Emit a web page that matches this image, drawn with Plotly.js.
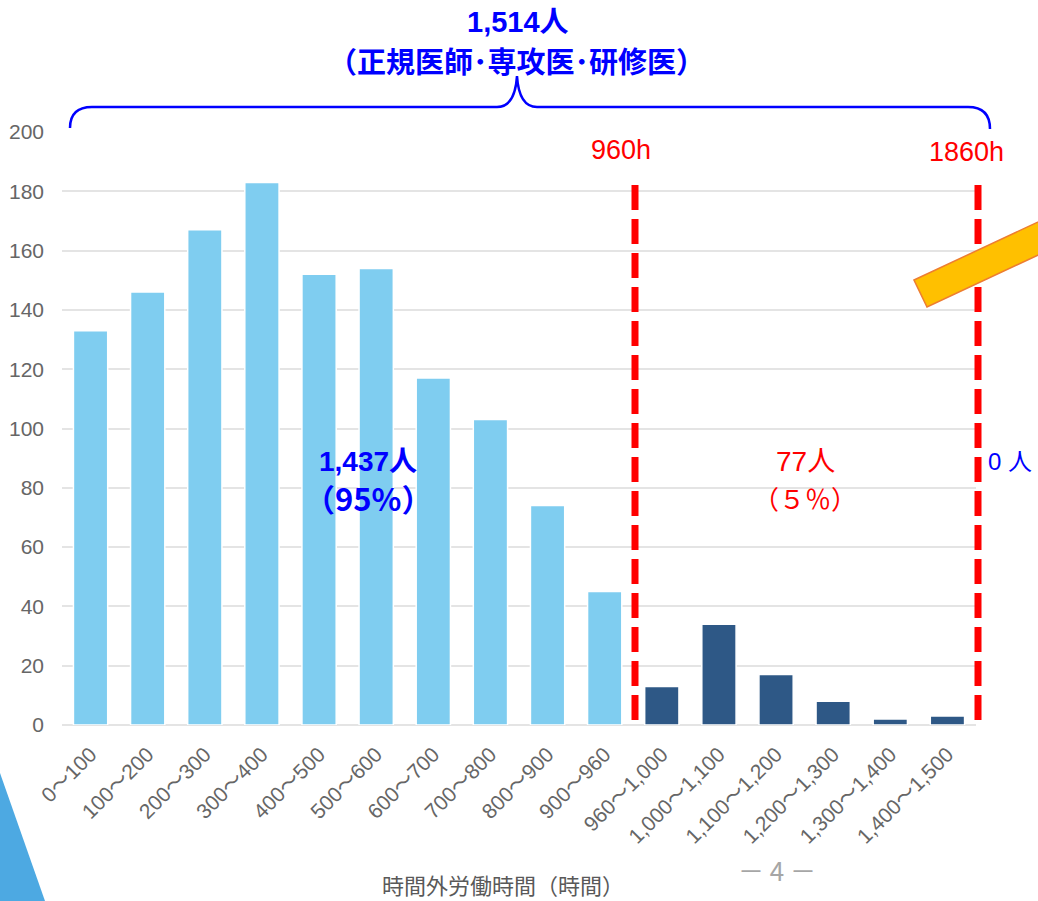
<!DOCTYPE html>
<html><head><meta charset="utf-8">
<script src="https://cdn.plot.ly/plotly-3.0.1.min.js"></script>
<style>html,body{margin:0;padding:0;background:#fff;}#chart{width:1038px;height:901px;}</style>
</head><body><div id="chart"></div>
<script>
// ---- data ----
const categories = ["0～100","100～200","200～300","300～400","400～500","500～600","600～700","700～800","800～900","900～960","960～1,000","1,000～1,100","1,100～1,200","1,200～1,300","1,300～1,400","1,400～1,500"];
const under960Cats = categories.slice(0, 10);
const under960Values = [133, 146, 167, 183, 152, 154, 117, 103, 74, 45];
const over960Cats = categories.slice(10);
const over960Values = [13, 34, 17, 8, 2, 3];
const yTicks = [0, 20, 40, 60, 80, 100, 120, 140, 160, 180, 200];
const thresholdLabels = ["960h", "1860h"];

// ---- layout helpers ----
const W = 1038, H = 901;
const M = {l: 62, r: 62, t: 132, b: 176};
const PW = W - M.l - M.r, PH = H - M.t - M.b;
const fx = x => (x - M.l) / PW;
const fy = y => (H - M.b - y) / PH;
const pt = (x, y) => fx(x).toFixed(5) + ',' + fy(y).toFixed(5);

const LAT = 'Liberation Sans, Noto Sans CJK JP, sans-serif';
const CJK = 'Noto Sans CJK JP, Liberation Sans, sans-serif';

const traces = [
  {type: 'bar', x: under960Cats, y: under960Values, marker: {color: '#7FCDF0', line: {color: '#ffffff', width: 1.5}}, hoverinfo: 'x+y'},
  {type: 'bar', x: over960Cats, y: over960Values, marker: {color: '#2E5886', line: {color: '#ffffff', width: 1.5}}, hoverinfo: 'x+y'}
];

const bracePath = 'M ' + pt(70,128) + ' Q ' + pt(70,107) + ' ' + pt(92,107) + ' L ' + pt(497,107) +
  ' Q ' + pt(515,107) + ' ' + pt(517,76) + ' Q ' + pt(519,107) + ' ' + pt(537,107) +
  ' L ' + pt(968,107) + ' Q ' + pt(990,107) + ' ' + pt(990,129);

const arrowPath = 'M ' + pt(914,280) + ' L ' + pt(1070,207) + ' L ' + pt(1083,234) + ' L ' + pt(927,307) + ' Z';
const cornerPath = 'M ' + pt(0,773) + ' L ' + pt(45,901) + ' L ' + pt(0,901) + ' Z';

const dashLine = x => ({type: 'line', xref: 'paper', yref: 'paper', x0: fx(x), x1: fx(x), y0: fy(185), y1: fy(721),
  line: {color: '#FF0000', width: 7, dash: '25px,9px'}});

const shapes = [
  {type: 'path', xref: 'paper', yref: 'paper', path: cornerPath, fillcolor: '#4DA9E2', line: {width: 0}},
  {type: 'path', xref: 'paper', yref: 'paper', path: bracePath, line: {color: '#0000FF', width: 2.5}},
  dashLine(635),
  dashLine(978),
  {type: 'path', xref: 'paper', yref: 'paper', path: arrowPath, fillcolor: '#FFC000', line: {color: '#ED7D31', width: 1.5}}
];

const ann = (x, y, text, size, color, family, extra) => Object.assign({
  xref: 'paper', yref: 'paper', x: fx(x), y: fy(y), text: text, showarrow: false,
  xanchor: 'center', yanchor: 'middle', font: {size: size, color: color, family: family}
}, extra || {});

const annotations = [
  ann(518, 22, '<b>1,514人</b>', 29, '#0000FF', LAT),
  ann(516, 60, '<b>（正規医師･専攻医･研修医）</b>', 29, '#0000FF', CJK),
  ann(621, 150, thresholdLabels[0], 27, '#FF0000', LAT),
  ann(966, 152, thresholdLabels[1], 27, '#FF0000', LAT),
  ann(368, 461, '<b>1,437人</b>', 28, '#0000FF', LAT),
  ann(368, 497, '<b>（95%）</b>', 31, '#0000FF', CJK),
  ann(805, 461, '77人', 28, '#FF0000', LAT),
  ann(805, 497, '（５％）', 26, '#FF0000', CJK),
  ann(986, 461, '0 人', 24, '#0000FF', LAT, {xanchor: 'left'}),
  ann(777, 869, '－ 4 －', 26, '#A6A6A6', CJK),
  ann(503, 884, '時間外労働時間（時間）', 22, '#595959', CJK)
];

const layout = {
  width: W, height: H,
  margin: M,
  paper_bgcolor: '#ffffff', plot_bgcolor: '#ffffff',
  showlegend: false,
  barmode: 'overlay', bargap: 0.4,
  xaxis: {
    type: 'category', categoryorder: 'array', categoryarray: categories,
    tickangle: -45, tickfont: {size: 21, color: '#666666', family: LAT},
    showgrid: false, showline: false, zeroline: false, ticks: '', ticklabelstandoff: 12,
    automargin: false, range: [-0.5, 15.5], fixedrange: true
  },
  yaxis: {
    range: [0, 200], tickvals: yTicks, ticktext: yTicks.map(String),
    tickfont: {size: 21, color: '#666666', family: LAT},
    showgrid: true, gridcolor: '#E4E4E4', gridwidth: 2,
    zeroline: true, zerolinecolor: '#E4E4E4', zerolinewidth: 2,
    showline: false, ticks: '', ticklabelstandoff: 17, automargin: false, fixedrange: true
  },
  shapes: shapes,
  annotations: annotations
};

Plotly.newPlot('chart', traces, layout, {displayModeBar: false, staticPlot: true});
</script>
</body></html>
